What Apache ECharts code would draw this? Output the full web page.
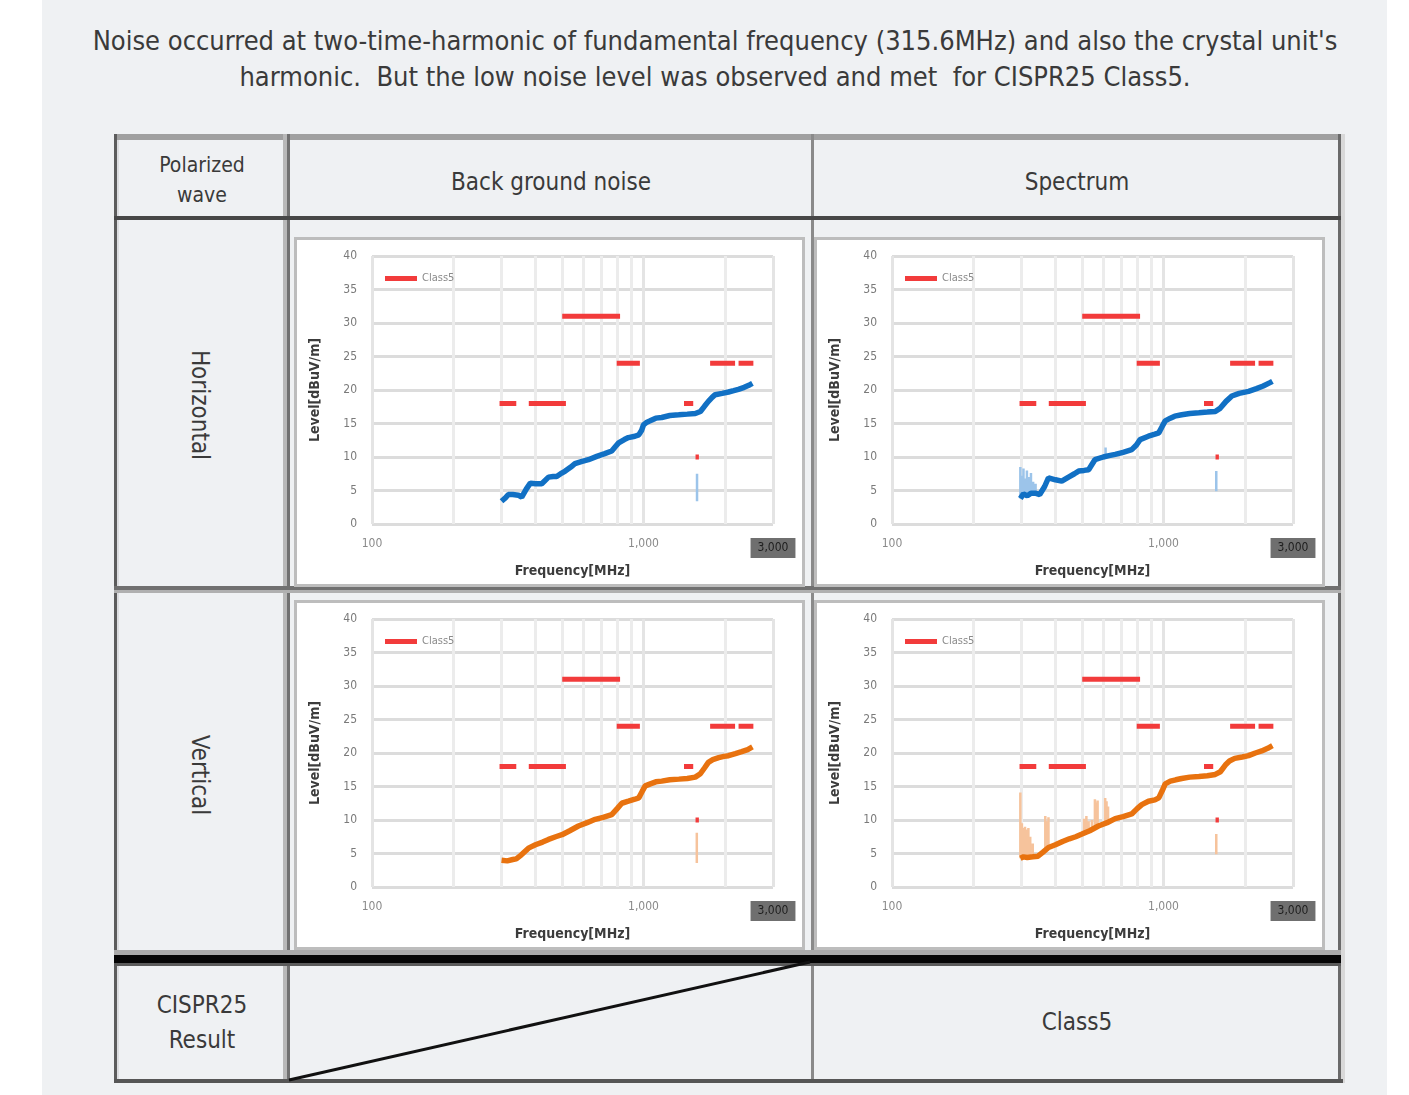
<!DOCTYPE html>
<html>
<head>
<meta charset="utf-8">
<script src="https://cdn.jsdelivr.net/npm/echarts@6/dist/echarts.min.js"></script>
<style>
body{margin:0;width:1409px;height:1095px;overflow:hidden;background:#fff;position:relative;
  font-family:"Liberation Sans Narrow","DejaVu Sans Condensed",sans-serif;color:#3a3a3a}
.sheet{position:absolute;left:42px;top:0;width:1345px;height:1095px;background:#eff1f3}
.ln{position:absolute}
.txt{position:absolute;white-space:nowrap;transform:translate(-50%,-50%);font-size:24px}
.rot{transform:translate(-50%,-50%) rotate(90deg)}
.panel{position:absolute;width:511px;height:350px;box-sizing:border-box;border:3px solid #bdbdbd;background:#fff}
#title{position:absolute;left:15px;top:23px;width:1400px;text-align:center;font-size:27px;line-height:36px}
</style>
</head>
<body>
<div class="sheet"></div>
<div id="title">Noise occurred at two-time-harmonic of fundamental frequency (315.6MHz) and also the crystal unit's<br>harmonic.&nbsp; But the low noise level was observed and met&nbsp; for CISPR25 Class5.</div>

<!-- table lines -->
<div class="ln" style="left:114px;top:134px;width:1229px;height:6px;background:#a0a0a0"></div>
<div class="ln" style="left:114px;top:134px;width:3px;height:949px;background:#5c5c5c"></div>
<div class="ln" style="left:117px;top:140px;width:2px;height:940px;background:#dcdde0"></div>
<div class="ln" style="left:1338px;top:134px;width:3px;height:949px;background:#6a6a6a"></div>
<div class="ln" style="left:1341px;top:134px;width:4px;height:949px;background:#d8d8d8"></div>
<div class="ln" style="left:283px;top:134px;width:4px;height:949px;background:#b8b8b8"></div>
<div class="ln" style="left:287px;top:134px;width:3px;height:949px;background:#707070"></div>
<div class="ln" style="left:811px;top:134px;width:3px;height:949px;background:#8a8a8a"></div>
<div class="ln" style="left:114px;top:216px;width:1227px;height:4px;background:#474747"></div>
<div class="ln" style="left:114px;top:586px;width:1227px;height:4px;background:#707070"></div>
<div class="ln" style="left:114px;top:590px;width:1227px;height:3px;background:#b0b0b0"></div>
<div class="ln" style="left:114px;top:950px;width:1227px;height:5px;background:#a9a9a9"></div>
<div class="ln" style="left:114px;top:955px;width:1227px;height:8px;background:#050505"></div>
<div class="ln" style="left:114px;top:963px;width:1227px;height:3px;background:#5b5b5b"></div>
<div class="ln" style="left:114px;top:1079px;width:1229px;height:4px;background:#565656"></div>
<svg class="ln" style="left:0;top:0" width="1409" height="1095">
  <line x1="289" y1="1080" x2="810" y2="962" stroke="#111" stroke-width="3"/>
</svg>

<!-- table text -->
<div class="txt" style="left:202px;top:165px;font-size:21px">Polarized</div>
<div class="txt" style="left:202px;top:195px;font-size:21px">wave</div>
<div class="txt" style="left:551px;top:182px">Back ground noise</div>
<div class="txt" style="left:1077px;top:182px">Spectrum</div>
<div class="txt rot" style="left:200px;top:405px">Horizontal</div>
<div class="txt rot" style="left:200px;top:775px">Vertical</div>
<div class="txt" style="left:202px;top:1005px">CISPR25</div>
<div class="txt" style="left:202px;top:1040px">Result</div>
<div class="txt" style="left:1077px;top:1022px">Class5</div>

<!-- chart panels -->
<div class="panel" id="hBg" style="left:294px;top:237px"></div>
<div class="panel" id="hSp" style="left:814px;top:237px"></div>
<div class="panel" id="vBg" style="left:294px;top:600px"></div>
<div class="panel" id="vSp" style="left:814px;top:600px"></div>

<script>
// vertical minor grid lines of the log frequency axis
const minorFreq = [200, 300, 400, 500, 600, 700, 800, 900, 2000];

// CISPR25 Class5 limit segments (MHz, dBuV/m)
const limitStart = [295, 378, 502, 797, 1410, 1555, 1760, 2240];
const limitEnd   = [340, 518, 820, 970, 1525, 1600, 2175, 2540];
const limitLevel = [18, 18, 31, 24, 18, 10, 24, 24];

// Horizontal - back ground noise
const hBgFreq  = [300, 310, 318, 330, 346, 356, 370, 383, 400, 422, 447, 465, 479, 500, 515, 540, 559, 590, 627, 673, 720, 764, 790, 810, 850, 880, 930, 961, 985, 1000, 1030, 1058, 1110, 1167, 1250, 1348, 1450, 1552, 1621, 1680, 1734, 1790, 1837, 1950, 2058, 2150, 2237, 2350, 2468, 2520];
const hBgLevel = [3.4, 3.9, 4.4, 4.4, 4.3, 4.0, 5.2, 6.1, 6.0, 6.0, 7.0, 7.1, 7.1, 7.6, 7.9, 8.5, 9.0, 9.3, 9.6, 10.1, 10.5, 10.9, 11.6, 12.1, 12.6, 12.9, 13.1, 13.3, 14.0, 14.8, 15.2, 15.4, 15.8, 15.9, 16.2, 16.3, 16.4, 16.5, 16.8, 17.6, 18.3, 18.9, 19.3, 19.5, 19.7, 19.9, 20.1, 20.4, 20.8, 21.0];
const hBgSpikeFreq = [1575];
const hBgSpikeLow  = [3.4];
const hBgSpikeHigh = [7.5];

// Horizontal - spectrum
const hSpFreq  = [297, 305, 315, 325, 337, 350, 365, 377, 400, 422, 447, 470, 487, 510, 530, 559, 600, 630, 664, 710, 764, 795, 820, 880, 930, 961, 990, 1015, 1060, 1100, 1167, 1250, 1350, 1450, 1552, 1620, 1700, 1786, 1900, 2058, 2200, 2330, 2468, 2520];
const hSpLevel = [3.8, 4.5, 4.2, 4.6, 4.6, 4.4, 5.6, 6.9, 6.6, 6.4, 7.0, 7.5, 7.9, 8.0, 8.1, 9.6, 10.0, 10.2, 10.4, 10.7, 11.1, 11.8, 12.6, 13.1, 13.4, 13.6, 14.6, 15.4, 15.8, 16.1, 16.3, 16.5, 16.6, 16.7, 16.8, 17.3, 18.3, 19.1, 19.5, 19.8, 20.2, 20.6, 21.1, 21.3];
const hSpSpikeFreq = [297, 301, 305, 309, 314, 319, 325, 331, 338, 612, 1565];
const hSpSpikeLow  = [3.8, 3.9, 4.2, 4.1, 4.2, 4.3, 4.5, 4.5, 4.6, 10.0, 4.9];
const hSpSpikeHigh = [8.5, 7.2, 8.3, 6.8, 8.0, 7.0, 7.6, 6.3, 6.0, 11.4, 7.9];

// Vertical - back ground noise
const vBgFreq  = [300, 315, 330, 340, 355, 377, 400, 425, 447, 475, 501, 535, 576, 620, 664, 710, 764, 800, 832, 880, 930, 961, 990, 1015, 1060, 1110, 1167, 1250, 1350, 1450, 1552, 1620, 1680, 1734, 1800, 1893, 1980, 2058, 2180, 2300, 2420, 2520];
const vBgLevel = [4.0, 3.9, 4.1, 4.2, 4.8, 5.8, 6.3, 6.7, 7.1, 7.5, 7.8, 8.4, 9.1, 9.6, 10.1, 10.4, 10.8, 11.7, 12.5, 12.8, 13.1, 13.3, 14.3, 15.1, 15.4, 15.7, 15.8, 16.0, 16.1, 16.2, 16.4, 16.9, 17.8, 18.6, 19.0, 19.3, 19.5, 19.6, 19.9, 20.2, 20.5, 20.9];
const vBgSpikeFreq = [1572];
const vBgSpikeLow  = [3.6];
const vBgSpikeHigh = [8.1];

// Vertical - spectrum
const vSpFreq  = [297, 305, 315, 330, 345, 360, 377, 400, 425, 450, 475, 501, 535, 576, 620, 664, 710, 764, 800, 832, 880, 930, 961, 990, 1015, 1060, 1110, 1167, 1250, 1350, 1450, 1552, 1620, 1690, 1750, 1830, 1950, 2058, 2180, 2300, 2420, 2520];
const vSpLevel = [4.3, 4.5, 4.4, 4.5, 4.6, 5.2, 5.9, 6.3, 6.8, 7.2, 7.5, 7.9, 8.4, 9.1, 9.6, 10.2, 10.5, 10.9, 11.7, 12.3, 12.8, 13.0, 13.3, 14.4, 15.4, 15.8, 16.0, 16.2, 16.4, 16.5, 16.6, 16.8, 17.2, 18.2, 18.8, 19.2, 19.4, 19.6, 20.0, 20.3, 20.7, 21.1];
const vSpSpikeFreq = [297, 301, 305, 309, 313, 318, 323, 330, 367, 372, 377, 510, 520, 530, 545, 559, 565, 572, 610, 617, 625, 1565];
const vSpSpikeLow  = [4.3, 4.4, 4.5, 4.5, 4.4, 4.4, 4.4, 4.5, 5.6, 5.7, 5.9, 7.9, 8.0, 8.2, 8.5, 8.8, 9.0, 9.1, 9.5, 9.6, 9.7, 4.9];
const vSpSpikeHigh = [14.1, 9.5, 8.8, 9.0, 8.6, 8.8, 7.5, 6.5, 10.6, 9.8, 10.4, 10.2, 10.6, 9.8, 10.0, 13.1, 12.6, 12.9, 13.3, 12.8, 12.0, 7.9];

const FONT = '"Liberation Sans Narrow", "DejaVu Sans Condensed", sans-serif';

function withComma(v) {
  return String(Math.round(v)).replace(/\B(?=(\d{3})+(?!\d))/g, ',');
}

function makeOption(freq, level, spFreq, spLow, spHigh, color, lightColor) {
  let limitData = [];
  for (let i = 0; i < limitStart.length; i++) {
    limitData.push([limitStart[i], limitLevel[i]], [limitEnd[i], limitLevel[i]], [limitEnd[i], '-']);
  }
  let spikeData = [];
  for (let i = 0; i < spFreq.length; i++) {
    spikeData.push([spFreq[i], spLow[i]], [spFreq[i], spHigh[i]], [spFreq[i], '-']);
  }
  return {
    animation: false,
    textStyle: { fontFamily: FONT },
    grid: { left: 75, right: 29, top: 16, bottom: 60 },
    legend: {
      data: ['Class5'],
      left: 83,
      top: 28,
      icon: 'rect',
      itemWidth: 32,
      itemHeight: 5,
      itemGap: 4,
      textStyle: { fontSize: 11, color: '#8a8a8a', fontFamily: FONT },
    },
    xAxis: {
      type: 'log',
      logBase: 10,
      min: 100,
      max: 3000,
      name: 'Frequency[MHz]',
      nameLocation: 'middle',
      nameGap: 40,
      nameTextStyle: { fontSize: 14, fontWeight: 'bold', color: '#3c3c3c' },
      axisLine: { show: false },
      axisTick: { show: false },
      axisLabel: {
        fontSize: 12,
        color: '#8a8a8a',
        margin: 14,
        formatter: (v) => (v > 2000 ? '{hl|' + withComma(v) + '}' : withComma(v)),
        rich: {
          hl: { backgroundColor: '#6f6f6f', color: '#1e1e1e', padding: [4, 7], fontSize: 12 },
        },
      },
      splitLine: { show: true, lineStyle: { color: '#e4e4e4', width: 3 } },
    },
    yAxis: {
      type: 'value',
      min: 0,
      max: 40,
      interval: 5,
      name: 'Level[dBuV/m]',
      nameLocation: 'middle',
      nameRotate: 90,
      nameGap: 50,
      nameTextStyle: { fontSize: 14, fontWeight: 'bold', color: '#3c3c3c' },
      axisLine: { show: false },
      axisTick: { show: false },
      axisLabel: { fontSize: 12, color: '#7a7a7a', margin: 15 },
      splitLine: { lineStyle: { color: '#dcdcdc', width: 3 } },
    },
    series: [
      {
        // minor vertical grid lines
        type: 'line',
        data: [],
        z: 1,
        silent: true,
        markLine: {
          silent: true,
          z: 1,
          symbol: 'none',
          label: { show: false },
          lineStyle: { color: '#ececec', width: 3, type: 'solid' },
          data: minorFreq.map((f) => ({ xAxis: f })),
        },
      },
      {
        name: 'spikes',
        type: 'line',
        showSymbol: false,
        z: 2,
        lineStyle: { color: lightColor, width: 2.5 },
        data: spikeData,
      },
      {
        name: 'trace',
        type: 'line',
        showSymbol: false,
        z: 3,
        lineStyle: { color: color, width: 5.5 },
        data: freq.map((f, i) => [f, level[i]]),
      },
      {
        name: 'Class5',
        type: 'line',
        showSymbol: false,
        z: 4,
        color: '#f23b3b',
        lineStyle: { color: '#f23b3b', width: 5, cap: 'butt' },
        data: limitData,
      },
    ],
  };
}

const blue = '#1170c4', blueLight = '#9cc4ea';
const orange = '#e8720f', orangeLight = '#f6c39c';

echarts.init(document.getElementById('hBg')).setOption(
  makeOption(hBgFreq, hBgLevel, hBgSpikeFreq, hBgSpikeLow, hBgSpikeHigh, blue, blueLight));
echarts.init(document.getElementById('hSp')).setOption(
  makeOption(hSpFreq, hSpLevel, hSpSpikeFreq, hSpSpikeLow, hSpSpikeHigh, blue, blueLight));
echarts.init(document.getElementById('vBg')).setOption(
  makeOption(vBgFreq, vBgLevel, vBgSpikeFreq, vBgSpikeLow, vBgSpikeHigh, orange, orangeLight));
echarts.init(document.getElementById('vSp')).setOption(
  makeOption(vSpFreq, vSpLevel, vSpSpikeFreq, vSpSpikeLow, vSpSpikeHigh, orange, orangeLight));
</script>
</body>
</html>
